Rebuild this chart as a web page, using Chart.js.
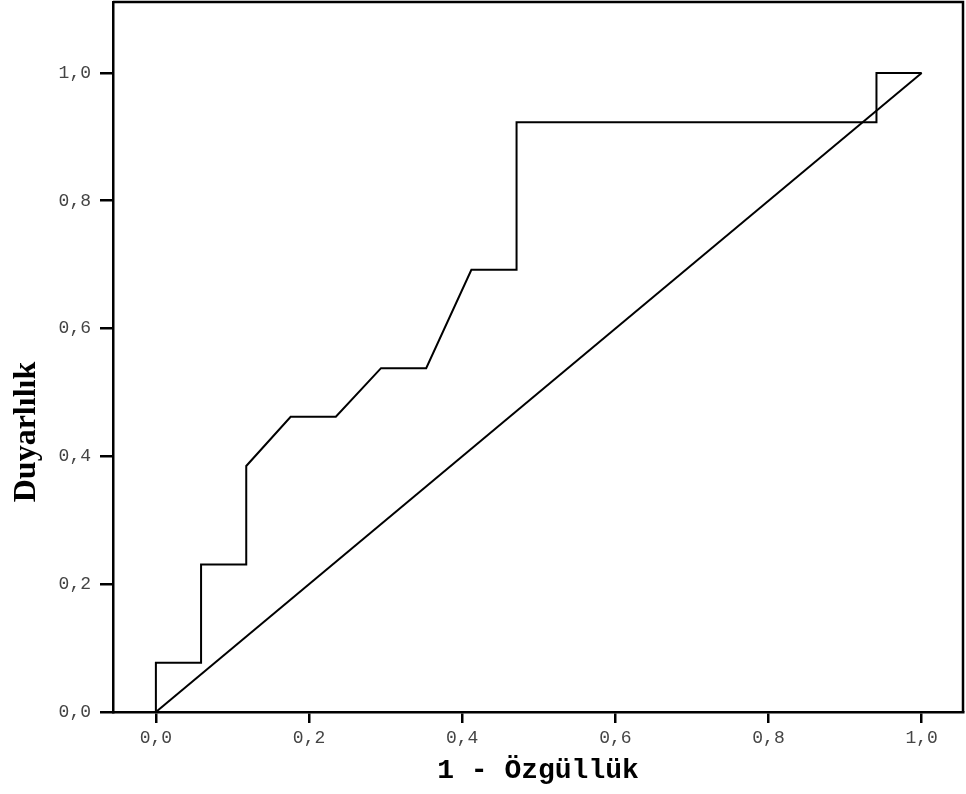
<!DOCTYPE html>
<html>
<head>
<meta charset="utf-8">
<script src="https://cdn.jsdelivr.net/npm/chart.js@4.4.1/dist/chart.umd.min.js"></script>
<style>
  html, body { margin: 0; padding: 0; background: #fff; }
  #wrap { width: 966px; height: 794px; }
</style>
</head>
<body>
<div id="wrap"><canvas id="rocChart" width="966" height="794"></canvas></div>
<script>
// ROC curve points (1 - specificity, sensitivity)
const fpr = [0, 0, 0.059, 0.059, 0.118, 0.118, 0.176, 0.235, 0.294, 0.353, 0.412, 0.471, 0.471, 0.941, 0.941, 1];
const tpr = [0, 0.077, 0.077, 0.231, 0.231, 0.385, 0.462, 0.462, 0.538, 0.538, 0.692, 0.692, 0.923, 0.923, 1, 1];
// reference diagonal
const refX = [0, 1];
const refY = [0, 1];
const tickVals = [0, 0.2, 0.4, 0.6, 0.8, 1.0];
const xTitle = '1 - Özgüllük';
const yTitle = 'Duyarlılık';

const ctx = document.getElementById('rocChart').getContext('2d');

const toPts = (xs, ys) => xs.map((x, i) => ({ x, y: ys[i] }));
const fmt = (v) => v.toFixed(1).replace('.', ',');

// top and right border of the plot frame, plus the rotated y title
const framePlugin = {
	id: 'frame',
	afterDraw(chart) {
		const { ctx, chartArea } = chart;
		ctx.save();
		ctx.strokeStyle = '#000';
		ctx.lineWidth = 2.5;
		ctx.beginPath();
		ctx.moveTo(chartArea.left, chartArea.top);
		ctx.lineTo(chartArea.right, chartArea.top);
		ctx.lineTo(chartArea.right, chartArea.bottom);
		ctx.stroke();

		ctx.translate(27, 432);
		ctx.rotate(-Math.PI / 2);
		ctx.fillStyle = '#000';
		ctx.font = 'bold 32px "Liberation Serif", serif';
		ctx.textAlign = 'center';
		ctx.textBaseline = 'middle';
		ctx.fillText(yTitle, 0, 0);
		ctx.restore();
	},
};

const tickFont = { family: '"Liberation Mono", monospace', size: 18 };

const config = {
	type: 'scatter',
	data: {
		datasets: [
			{
				data: toPts(fpr, tpr),
				showLine: true,
				borderColor: '#000',
				borderWidth: 2,
				pointRadius: 0,
				fill: false,
			},
			{
				data: toPts(refX, refY),
				showLine: true,
				borderColor: '#000',
				borderWidth: 2,
				pointRadius: 0,
				fill: false,
			},
		],
	},
	options: {
		responsive: false,
		animation: false,
		layout: { padding: { top: 2, right: 3, left: 0, bottom: 0 } },
		plugins: {
			legend: { display: false },
			tooltip: { enabled: false },
		},
		scales: {
			x: {
				type: 'linear',
				min: -0.056,
				max: 1.054,
				afterBuildTicks: (scale) => {
					scale.ticks = tickVals.map((v) => ({ value: v }));
				},
				afterFit: (scale) => {
					scale.height = 82;
					scale.paddingLeft = 0;
					scale.paddingRight = 0;
				},
				ticks: {
					callback: (v) => fmt(v),
					color: '#444',
					font: tickFont,
					padding: 4,
					maxRotation: 0,
				},
				grid: {
					drawOnChartArea: false,
					drawTicks: true,
					tickLength: 11,
					color: '#000',
					lineWidth: 2.5,
				},
				border: { display: true, color: '#000', width: 2.5 },
				title: {
					display: true,
					text: xTitle,
					color: '#000',
					font: { family: '"Liberation Mono", monospace', size: 28, weight: 'bold' },
					padding: { top: 0, bottom: 6 },
				},
			},
			y: {
				type: 'linear',
				min: 0,
				max: 1.111,
				afterBuildTicks: (scale) => {
					scale.ticks = tickVals.map((v) => ({ value: v }));
				},
				afterFit: (scale) => {
					scale.width = 113;
					scale.paddingTop = 0;
					scale.paddingBottom = 0;
				},
				ticks: {
					callback: (v) => fmt(v),
					color: '#444',
					font: tickFont,
					padding: 9,
				},
				grid: {
					drawOnChartArea: false,
					drawTicks: true,
					tickLength: 13,
					color: '#000',
					lineWidth: 2.5,
				},
				border: { display: true, color: '#000', width: 2.5 },
			},
		},
	},
	plugins: [framePlugin],
};

const rocChart = new Chart(ctx, config);
</script>
</body>
</html>
